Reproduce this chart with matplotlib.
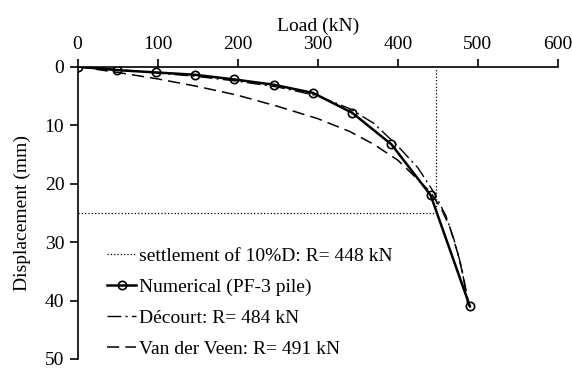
import matplotlib.pyplot as plt

plt.rcParams['font.family'] = ['Liberation Serif', 'DejaVu Serif']
plt.rcParams['font.size'] = 14

# numerical load-settlement curve (PF-3 pile)
num_load = [0, 49, 98, 147, 196, 245, 294, 343, 392, 441, 490]
num_disp = [0, 0.6, 1.0, 1.4, 2.2, 3.1, 4.5, 7.9, 13.3, 22.0, 41.0]

# Décourt extrapolation
dec_load = [0, 50, 100, 150, 200, 250, 300, 340, 370, 400, 425, 445, 460, 470, 480, 487]
dec_disp = [0, 0.5, 1.1, 1.7, 2.5, 3.5, 5.0, 7.2, 9.7, 13.6, 17.3, 21.5, 25.5, 29.5, 34.5, 40.5]

# Van der Veen extrapolation
vdv_load = [0, 50, 100, 150, 200, 250, 300, 340, 370, 400, 425, 441, 455, 465, 475, 482, 489]
vdv_disp = [0, 1.0, 2.1, 3.4, 4.9, 6.8, 8.9, 11.1, 13.3, 16.0, 19.3, 21.5, 24.5, 27.5, 32.0, 36.0, 41.0]

# 10% of pile diameter criterion
r_10d = 448
s_10d = 25

fig = plt.figure(figsize=(5.72, 3.72), dpi=100)
ax = fig.add_axes([0.1355, 0.035, 0.84, 0.786])

ax.plot([0, r_10d, r_10d], [s_10d, s_10d, 0], color='black', linestyle=':', linewidth=0.9,
        label='settlement of 10%D: R= 448 kN')
ax.plot(num_load, num_disp, color='black', linewidth=1.8, marker='o', markersize=6,
        markerfacecolor='none', markeredgewidth=1.2, label='Numerical (PF-3 pile)')
ax.plot(dec_load, dec_disp, color='black', linewidth=1.0, linestyle=(0, (10, 3, 1.5, 3)),
        label='Décourt: R= 484 kN')
ax.plot(vdv_load, vdv_disp, color='black', linewidth=1.1, linestyle=(0, (8, 4)),
        label='Van der Veen: R= 491 kN')

ax.set_xlim(0, 600)
ax.set_ylim(50, 0)
ax.set_xticks(range(0, 601, 100))
ax.set_yticks(range(0, 51, 10))
ax.xaxis.tick_top()
ax.xaxis.set_label_position('top')
ax.set_xlabel('Load (kN)', labelpad=4)
ax.set_ylabel('Displacement (mm)', labelpad=10)
ax.spines['right'].set_visible(False)
ax.spines['bottom'].set_visible(False)
ax.spines['left'].set_linewidth(1.2)
ax.spines['top'].set_linewidth(1.2)
ax.tick_params(direction='out', length=6, width=1.2)

ax.legend(loc='lower left', bbox_to_anchor=(0.025, -0.055), frameon=False,
          handlelength=1.5, handletextpad=0.15, labelspacing=0.68)

fig.savefig('out.png', dpi=100)
